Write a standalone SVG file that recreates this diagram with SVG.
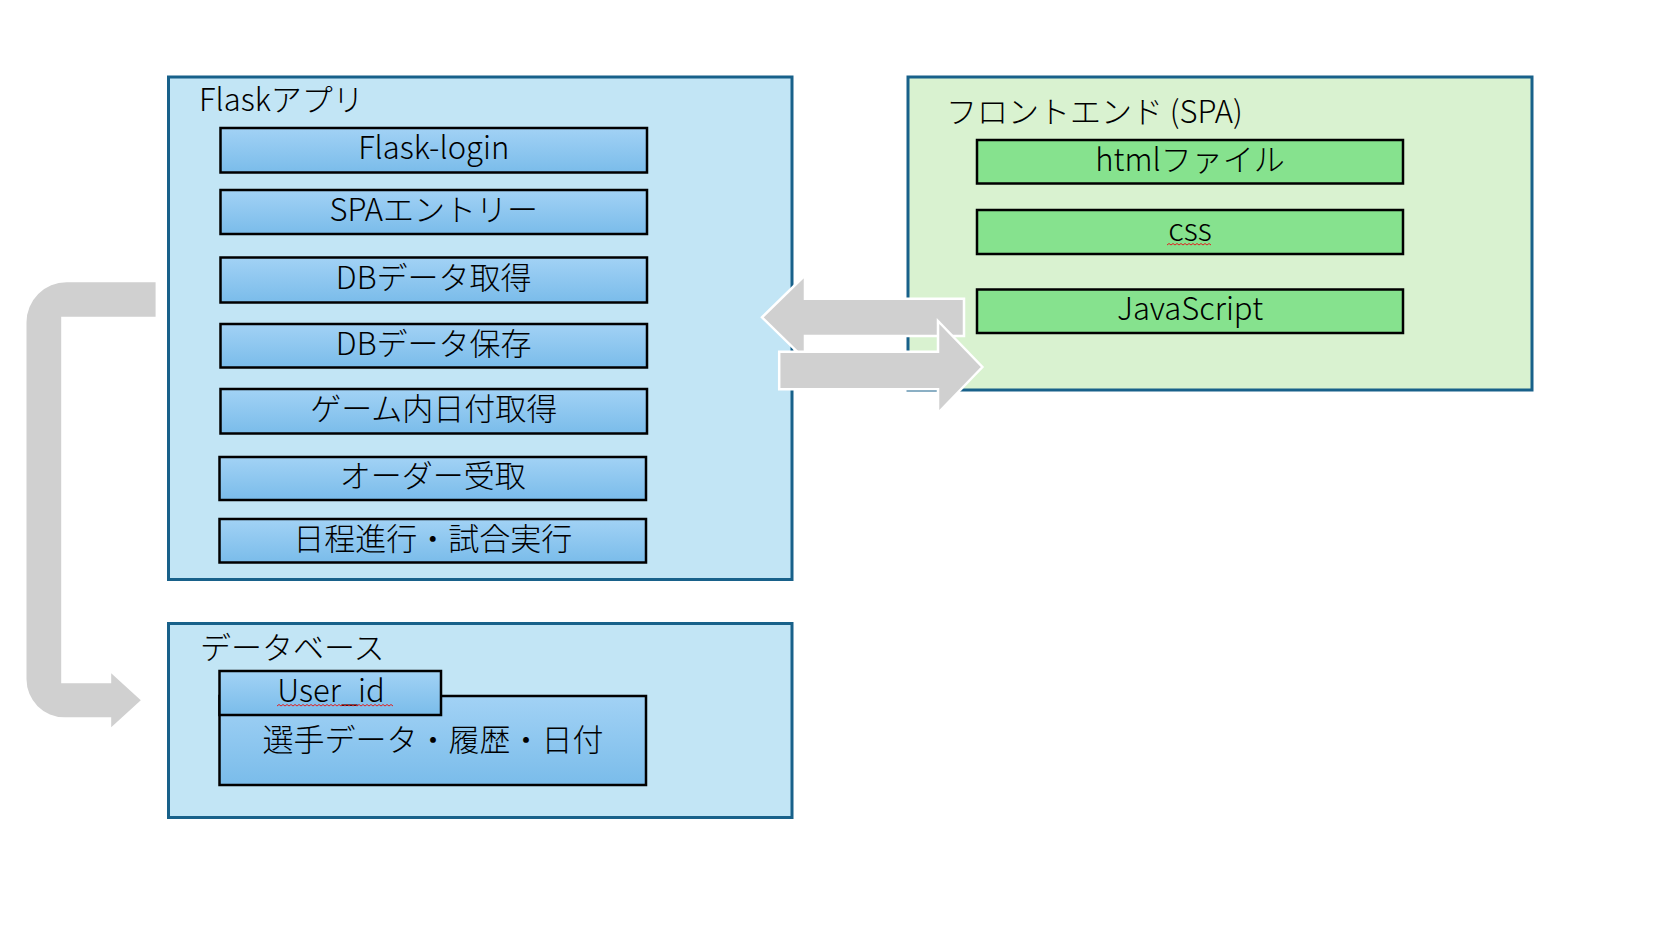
<svg xmlns="http://www.w3.org/2000/svg" width="1671" height="936" viewBox="0 0 1671 936">
<defs>
<linearGradient id="blueGrad" x1="0" y1="0" x2="0" y2="1">
<stop offset="0" stop-color="#A2D2F5"/>
<stop offset="1" stop-color="#7ABCEA"/>
</linearGradient>
<style>
.container{stroke:#18618A;stroke-width:3}
.flaskbg{fill:#C2E5F5}
.frontbg{fill:#D9F2D0}
.item{fill:url(#blueGrad);stroke:#000;stroke-width:2.5}
.green{fill:#86E28E;stroke:#000;stroke-width:2.5}
.arrow{fill:#D0D0D0;stroke:#FFFFFF;stroke-width:2.5;stroke-linejoin:miter}
.elbow{fill:#D0D0D0}
text{font-family:"Noto Sans CJK JP","Noto Sans",sans-serif;font-size:31px;font-weight:300;fill:#000}
.c{text-anchor:middle}
.squiggle{fill:none;stroke:#E02020;stroke-width:1}
</style>
</defs>
<rect width="1671" height="936" fill="#FFFFFF"/>

<g id="flask-app">
<rect class="container flaskbg" x="168.5" y="77" width="623.5" height="502.5"/>
<text x="199" y="111">Flaskアプリ</text>
</g>
<g id="flask-login">
<rect class="item" x="220.5" y="128" width="426.5" height="44.5"/>
<text class="c" x="433.7" y="159">Flask-login</text>
</g>
<g id="spa-entry">
<rect class="item" x="220.5" y="190" width="426.5" height="44"/>
<text class="c" x="433.7" y="221">SPAエントリー</text>
</g>
<g id="db-get">
<rect class="item" x="220.5" y="257.5" width="426.5" height="45"/>
<text class="c" x="433.7" y="289">DBデータ取得</text>
</g>
<g id="db-save">
<rect class="item" x="220.5" y="324" width="426.5" height="43.5"/>
<text class="c" x="433.7" y="355">DBデータ保存</text>
</g>
<g id="game-date">
<rect class="item" x="220.5" y="389" width="426.5" height="44.5"/>
<text class="c" x="433.7" y="420">ゲーム内日付取得</text>
</g>
<g id="order">
<rect class="item" x="219.5" y="457" width="426.5" height="43"/>
<text class="c" x="432.7" y="487">オーダー受取</text>
</g>
<g id="schedule">
<rect class="item" x="219.5" y="519" width="426.5" height="43.5"/>
<text class="c" x="432.7" y="550">日程進行・試合実行</text>
</g>

<g id="frontend">
<rect class="container frontbg" x="908" y="77" width="624" height="313"/>
<text x="946" y="122.5">フロントエンド (SPA)</text>
</g>
<g id="html-file">
<rect class="green" x="977" y="140" width="426" height="43.5"/>
<text class="c" x="1190" y="170.5">htmlファイル</text>
</g>
<g id="css">
<rect class="green" x="977" y="210" width="426" height="44"/>
<text class="c" x="1190" y="240.5">css</text>
<path class="squiggle" d="M1167 245 l2 -1.5 l2 1.5 l2 -1.5 l2 1.5 l2 -1.5 l2 1.5 l2 -1.5 l2 1.5 l2 -1.5 l2 1.5 l2 -1.5 l2 1.5 l2 -1.5 l2 1.5 l2 -1.5 l2 1.5 l2 -1.5 l2 1.5 l2 -1.5 l2 1.5 l2 -1.5 l2 1.5"/>
</g>
<g id="javascript">
<rect class="green" x="977" y="289.5" width="426" height="43.5"/>
<text class="c" x="1190" y="319.5">JavaScript</text>
</g>

<g id="database">
<rect class="container flaskbg" x="168.5" y="623.5" width="623.5" height="194"/>
<text x="200" y="659">データベース</text>
</g>
<g id="db-data">
<rect class="item" x="219.5" y="696" width="426.5" height="89"/>
<text class="c" x="433" y="751">選手データ・履歴・日付</text>
</g>
<g id="user-id">
<rect class="item" x="219.5" y="671" width="221.5" height="44"/>
<text class="c" x="331" y="701.5">User_id</text>
<path class="squiggle" d="M277 706 l2 -1.5 l2 1.5 l2 -1.5 l2 1.5 l2 -1.5 l2 1.5 l2 -1.5 l2 1.5 l2 -1.5 l2 1.5 l2 -1.5 l2 1.5 l2 -1.5 l2 1.5 l2 -1.5 l2 1.5 l2 -1.5 l2 1.5 l2 -1.5 l2 1.5 l2 -1.5 l2 1.5 l2 -1.5 l2 1.5 l2 -1.5 l2 1.5 l2 -1.5 l2 1.5 l2 -1.5 l2 1.5 l2 -1.5 l2 1.5 l2 -1.5 l2 1.5 l2 -1.5 l2 1.5 l2 -1.5 l2 1.5 l2 -1.5 l2 1.5 l2 -1.5 l2 1.5 l2 -1.5 l2 1.5 l2 -1.5 l2 1.5 l2 -1.5 l2 1.5 l2 -1.5 l2 1.5 l2 -1.5 l2 1.5 l2 -1.5 l2 1.5 l2 -1.5 l2 1.5 l2 -1.5 l2 1.5"/>
</g>

<g id="connectors">
<path class="elbow" d="M155.6 282.3 L66.5 282.3 A40 40 0 0 0 26.5 322.3 L26.5 679.3 A38 38 0 0 0 64.5 717.3 L111.2 717.3 L111.2 727.3 L140.8 700.3 L111.2 673.3 L111.2 683.3 L61.2 683.3 L61.2 316.7 L155.6 316.7 Z"/>
<polygon class="arrow" points="964,298.7 805,298.7 805,275.3 762,317.3 805,359.3 805,336 964,336"/>
<polygon class="arrow" points="779.2,351.7 938,351.7 938,321 982.4,367 938,413 938,389.3 779.2,389.3"/>
</g>
</svg>
